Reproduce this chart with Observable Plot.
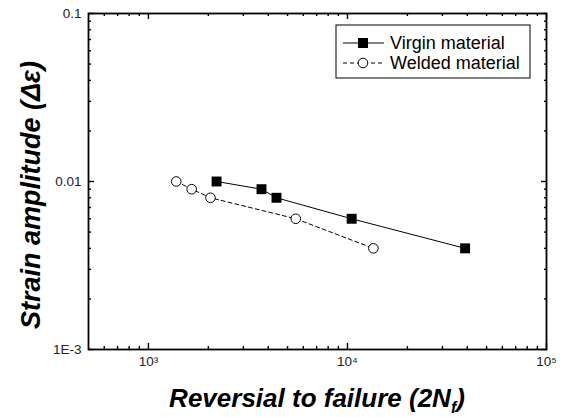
<!DOCTYPE html>
<html>
<head>
<meta charset="utf-8">
<script src="https://cdn.jsdelivr.net/npm/d3@7"></script>
<script src="https://cdn.jsdelivr.net/npm/@observablehq/plot@0.6"></script>
<style>
  html, body { margin: 0; padding: 0; background: white; }
</style>
</head>
<body>
<div id="chart"></div>
<script>
// Data
const virginN = [2200, 3700, 4400, 10500, 39000];
const virginStrain = [0.010, 0.009, 0.008, 0.006, 0.004];
const weldedN = [1380, 1650, 2050, 5500, 13500];
const weldedStrain = [0.010, 0.009, 0.008, 0.006, 0.004];

const xMajorTicks = [1e3, 1e4, 1e5];
const xTickLabels = ["10\u00B3", "10\u2074", "10\u2075"];
const xMinorTicks = [600, 700, 800, 900, 2000, 3000, 4000, 5000, 6000, 7000, 8000, 9000,
  20000, 30000, 40000, 50000, 60000, 70000, 80000, 90000];
const yMajorTicks = [0.001, 0.01, 0.1];
const yTickLabels = ["1E-3", "0.01", "0.1"];
const yMinorTicks = [0.002, 0.003, 0.004, 0.005, 0.006, 0.007, 0.008, 0.009,
  0.02, 0.03, 0.04, 0.05, 0.06, 0.07, 0.08, 0.09];

const seriesNames = ["Virgin material", "Welded material"];
const xTitle = "Reversial to failure (2N";
const xTitleSub = "f";
const yTitle = "Strain amplitude (\u0394\u03B5)";

const virgin = virginN.map((n, i) => ({n, s: virginStrain[i]}));
const welded = weldedN.map((n, i) => ({n, s: weldedStrain[i]}));

const W = 563, H = 417;
const mL = 88, mR = 17, mT = 13, mB = 68;
const fw = W - mL - mR, fh = H - mT - mB;
const major = 6, minor = 3;
const font = "'Liberation Sans', Arial, sans-serif";
const tc = "black", tw = 1.4;

function tickMarksX(ticks, len) {
  return [
    Plot.axisX({ticks, anchor: "bottom", tickSize: len, dy: -len, fill: "none", stroke: tc, strokeWidth: tw, label: null}),
    Plot.axisX({ticks, anchor: "top", tickSize: len, dy: len - 1, fill: "none", stroke: tc, strokeWidth: tw, label: null})
  ];
}
function tickMarksY(ticks, len) {
  return [
    Plot.axisY({ticks, anchor: "left", tickSize: len, dx: len, fill: "none", stroke: tc, strokeWidth: tw, label: null}),
    Plot.axisY({ticks, anchor: "right", tickSize: len, dx: -len, fill: "none", stroke: tc, strokeWidth: tw, label: null})
  ];
}

const plot = Plot.plot({
  width: W, height: H,
  marginLeft: mL, marginRight: mR, marginTop: mT, marginBottom: mB,
  x: {type: "log", domain: [500, 1e5]},
  y: {type: "log", domain: [1e-3, 0.1]},
  style: {fontFamily: font, background: "white", color: "black"},
  marks: [
    ...tickMarksX(xMajorTicks, major),
    ...tickMarksX(xMinorTicks, minor),
    ...tickMarksY(yMajorTicks, major),
    ...tickMarksY(yMinorTicks, minor),
    Plot.frame({stroke: "black", strokeWidth: 1.8}),
    Plot.axisX({ticks: xMajorTicks, tickSize: 0, tickPadding: 7, label: null,
      tickFormat: d => xTickLabels[xMajorTicks.indexOf(d)], fontSize: 13.5, fill: "#222"}),
    Plot.axisY({ticks: yMajorTicks, tickSize: 0, tickPadding: 7, label: null,
      tickFormat: d => yTickLabels[yMajorTicks.indexOf(d)], fontSize: 13.5, fill: "#222"}),
    // series
    Plot.line(welded, {x: "n", y: "s", stroke: "black", strokeWidth: 1, strokeDasharray: "4,3"}),
    Plot.line(virgin, {x: "n", y: "s", stroke: "black", strokeWidth: 1}),
    Plot.dot(welded, {x: "n", y: "s", r: 4.8, fill: "white", stroke: "black", strokeWidth: 1}),
    Plot.dot(virgin, {x: "n", y: "s", r: 5.6, symbol: "square", fill: "black", stroke: "none"})
  ]
});

const svg = d3.select(plot);

// Axis titles
const xt = svg.append("text")
  .attr("x", mL + fw / 2).attr("y", 407)
  .attr("text-anchor", "middle")
  .attr("font-family", font).attr("font-size", 26)
  .attr("font-weight", "bold").attr("font-style", "italic")
  .attr("fill", "black");
xt.append("tspan").text(xTitle);
xt.append("tspan").attr("font-size", 16).attr("dy", 6).text(xTitleSub);
xt.append("tspan").attr("dy", -6).text(")");

svg.append("text")
  .attr("transform", `translate(40, 195) rotate(-90)`)
  .attr("text-anchor", "middle")
  .attr("font-family", font).attr("font-size", 27)
  .attr("font-weight", "bold").attr("font-style", "italic")
  .attr("fill", "black")
  .text(yTitle);

// Legend
const lg = svg.append("g").attr("font-family", font).attr("text-anchor", "start");
lg.append("rect").attr("x", 336).attr("y", 25).attr("width", 194).attr("height", 53)
  .attr("fill", "white").attr("stroke", "black").attr("stroke-width", 1);
// row 1
lg.append("line").attr("x1", 343).attr("x2", 384).attr("y1", 43).attr("y2", 43)
  .attr("stroke", "black").attr("stroke-width", 1);
lg.append("rect").attr("x", 363 - 5).attr("y", 43 - 5).attr("width", 10).attr("height", 10)
  .attr("fill", "black");
lg.append("text").attr("x", 390).attr("y", 43).attr("dy", "0.35em")
  .attr("text-anchor", "start")
  .attr("font-size", 18).attr("fill", "black").text(seriesNames[0]);
// row 2
lg.append("line").attr("x1", 343).attr("x2", 384).attr("y1", 63).attr("y2", 63)
  .attr("stroke", "black").attr("stroke-width", 1).attr("stroke-dasharray", "4,3");
lg.append("circle").attr("cx", 363).attr("cy", 63).attr("r", 4.8)
  .attr("fill", "white").attr("stroke", "black").attr("stroke-width", 1);
lg.append("text").attr("x", 390).attr("y", 63).attr("dy", "0.35em")
  .attr("text-anchor", "start")
  .attr("font-size", 18).attr("fill", "black").text(seriesNames[1]);

document.getElementById("chart").appendChild(plot);
</script>
</body>
</html>
